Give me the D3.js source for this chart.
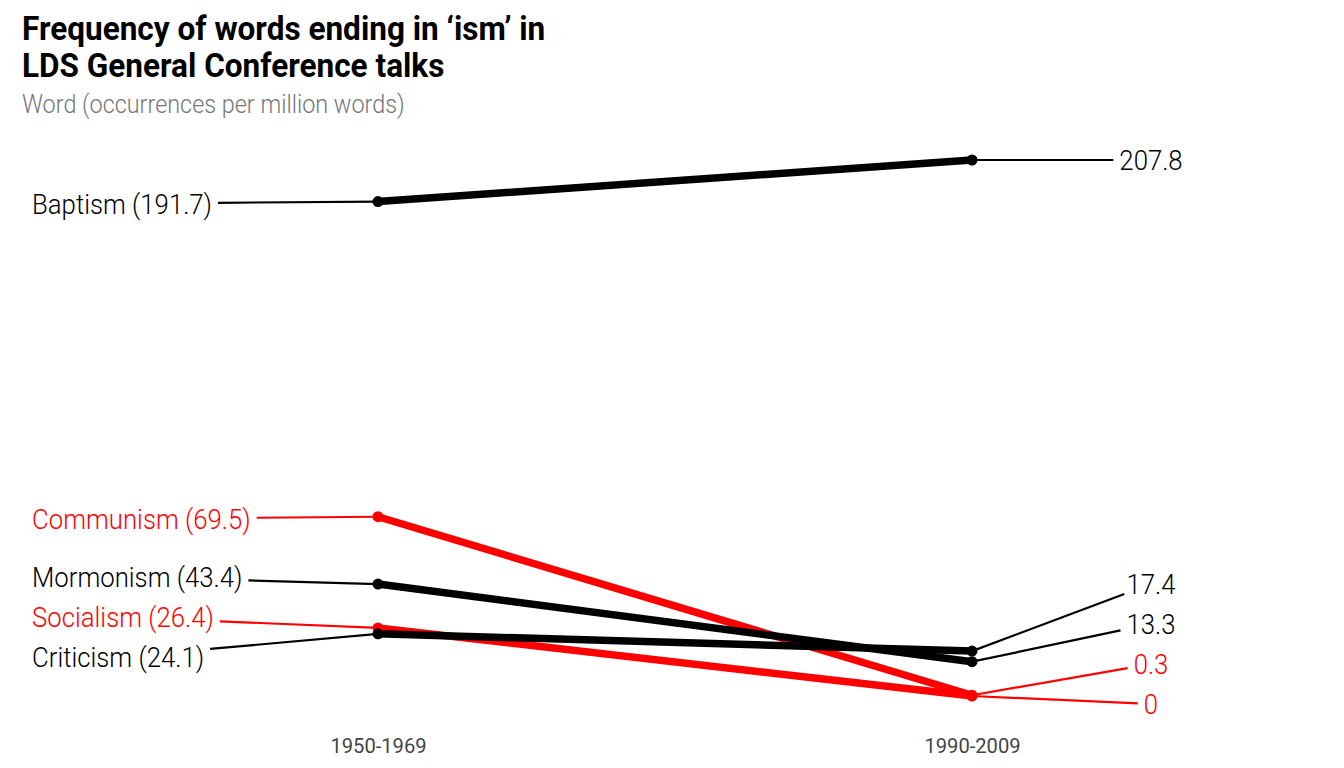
<!DOCTYPE html>
<html>
<head>
<meta charset="utf-8">
<script src="https://cdn.jsdelivr.net/npm/d3@7"></script>
<style>
  body { margin: 0; background: #fff; }
  text { font-family: Roboto, sans-serif; }
</style>
</head>
<body>
<svg id="chart" width="1344" height="768"></svg>
<script>
// data
const periods = ["1950-1969", "1990-2009"];
const words = ["Baptism", "Communism", "Mormonism", "Socialism", "Criticism"];
const early = [191.7, 69.5, 43.4, 26.4, 24.1];
const late = [207.8, 0.3, 13.3, 0, 17.4];
const redWords = ["Communism", "Socialism"];

const width = 1344, height = 768;
const svg = d3.select("#chart");

const x = d3.scalePoint().domain(periods).range([378, 972]);
const y = d3.scaleLinear()
    .domain([0, d3.max(early.concat(late))])
    .range([696, 160]);

const colorOf = w => redWords.includes(w) ? "#ff0000" : "#000000";

const rows = words.map((w, i) => ({ word: w, v1: early[i], v2: late[i], color: colorOf(w) }));

// squeezed text, stands in for Roboto Condensed
function ctext(g, str, px, py, opts) {
  const sx = opts.squeeze || 0.92;
  const t = g.append("text")
      .attr("transform", `translate(${px},${py}) scale(${sx},1)`)
      .attr("font-size", opts.size)
      .attr("font-weight", opts.weight || 300)
      .attr("fill", opts.fill || "#000")
      .attr("text-anchor", opts.anchor || "start")
      .text(str);
  t.squeeze = sx;
  return t;
}

// simple 1D label repel: spread labels at least `gap` apart, stay within [lo, hi]
function repel(ys, gap, lo, hi) {
  const idx = ys.map((v, i) => i).sort((a, b) => ys[a] - ys[b]);
  let clusters = idx.map(i => ({ items: [i], top: ys[i] }));
  let changed = true;
  while (changed) {
    changed = false;
    clusters.forEach(c => {
      const n = c.items.length;
      const mean = d3.mean(c.items, i => ys[i]);
      c.top = mean - gap * (n - 1) / 2;
      c.top = Math.min(c.top, hi - gap * (n - 1));
      c.top = Math.max(c.top, lo);
    });
    for (let k = 0; k < clusters.length - 1; k++) {
      const a = clusters[k], b = clusters[k + 1];
      if (a.top + gap * a.items.length > b.top) {
        a.items = a.items.concat(b.items);
        clusters.splice(k + 1, 1);
        changed = true;
        break;
      }
    }
  }
  const out = [];
  clusters.forEach(c => c.items.forEach((i, j) => { out[i] = c.top + gap * j; }));
  return out;
}

// where the segment from box centre to point leaves the (padded) box
function boxExit(cx, cy, hw, hh, px, py) {
  const dx = px - cx, dy = py - cy;
  if (Math.abs(dx) <= hw && Math.abs(dy) <= hh) return null;
  const t = Math.min(dx !== 0 ? hw / Math.abs(dx) : Infinity, dy !== 0 ? hh / Math.abs(dy) : Infinity);
  return [cx + dx * t, cy + dy * t];
}

// title
ctext(svg, "Frequency of words ending in \u2018ism\u2019 in", 22, 40, { size: 34, weight: 700, squeeze: 0.928 });
ctext(svg, "LDS General Conference talks", 22, 77, { size: 34, weight: 700, squeeze: 0.928 });
ctext(svg, "Word (occurrences per million words)", 22, 113, { size: 26, weight: 300, fill: "#777", squeeze: 0.9 });

// x axis
const axis = svg.append("g")
    .attr("transform", `translate(0,${height - 22})`)
    .call(d3.axisBottom(x).tickSize(0).tickPadding(0));
axis.select(".domain").remove();
axis.selectAll(".tick text").remove();
axis.selectAll(".tick").each(function(d) {
  ctext(d3.select(this), d, 0, 7, { size: 21, weight: 400, fill: "#444", anchor: "middle", squeeze: 0.96 });
});

const labelSize = 28;
const gap = 40;
const bottom = y(0) + 8;
const pad = 6;
const halfH = 10;

const segG = svg.append("g");
const lineG = svg.append("g");
const labG = svg.append("g");

// left labels
const leftY = repel(rows.map(d => y(d.v1)), gap, 140, bottom);
rows.forEach((d, i) => {
  const ly = leftY[i] + 2;
  const t = ctext(labG, `${d.word} (${d.v1})`, 32, ly + labelSize * 0.36,
      { size: labelSize, fill: d.color });
  const w = t.node().getComputedTextLength() * t.squeeze;
  const e = boxExit(32 + w / 2, ly, w / 2 + pad, halfH, x(periods[0]), y(d.v1));
  if (e) segG.append("line")
      .attr("x1", e[0]).attr("y1", e[1])
      .attr("x2", x(periods[0])).attr("y2", y(d.v1))
      .attr("stroke", d.color).attr("stroke-width", 2.2);
});

// right labels
const rightCx = 1151;
const rightY = repel(rows.map(d => y(d.v2)), gap, 140, bottom);
rows.forEach((d, i) => {
  const ly = rightY[i];
  const t = ctext(labG, `${d.v2}`, rightCx, ly + labelSize * 0.36,
      { size: labelSize, fill: d.color, anchor: "middle" });
  const w = t.node().getComputedTextLength() * t.squeeze;
  const e = boxExit(rightCx, ly, w / 2 + pad, halfH, x(periods[1]), y(d.v2));
  if (e) segG.append("line")
      .attr("x1", e[0]).attr("y1", e[1])
      .attr("x2", x(periods[1])).attr("y2", y(d.v2))
      .attr("stroke", d.color).attr("stroke-width", 2.2);
});

// slope lines and points
lineG.selectAll("line.slope")
  .data(rows)
  .join("line")
    .attr("class", "slope")
    .attr("x1", x(periods[0])).attr("y1", d => y(d.v1))
    .attr("x2", x(periods[1])).attr("y2", d => y(d.v2))
    .attr("stroke", d => d.color)
    .attr("stroke-width", 7.5);

rows.forEach(d => {
  [[periods[0], d.v1], [periods[1], d.v2]].forEach(([p, v]) => {
    lineG.append("circle")
        .attr("cx", x(p)).attr("cy", y(v)).attr("r", 5.5)
        .attr("fill", d.color);
  });
});
</script>
</body>
</html>
